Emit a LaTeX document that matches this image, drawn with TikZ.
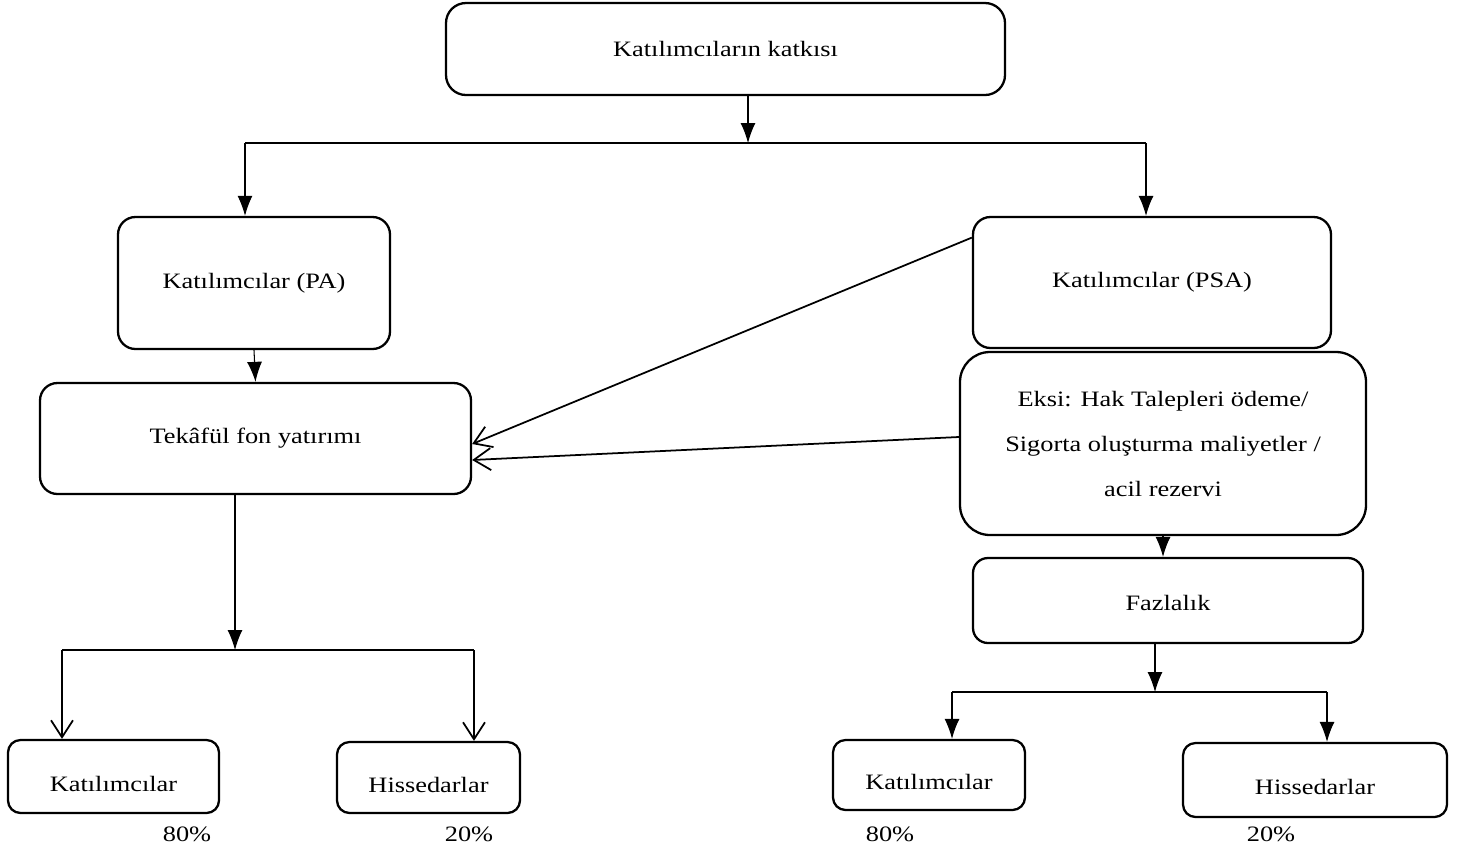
\documentclass[tikz,border=0pt]{standalone}
\usepackage{fontspec}
\setmainfont{Liberation Serif}[FakeStretch=1.2]
\usepackage{tikz}
\usetikzlibrary{arrows.meta, positioning, calc}

\begin{document}
\begin{tikzpicture}
    % Define styles
    \tikzstyle{box} = [rectangle, rounded corners=0.35cm, draw=black, line width=1.3pt, align=center, font=\fontsize{12.5}{25.6}\selectfont, inner sep=0pt]
    \tikzstyle{lowbox} = [box, rounded corners=0.25cm, text height=20pt, text depth=3pt]
    \tikzstyle{pct} = [font=\fontsize{12.5}{15}\selectfont, inner sep=0pt]
    \tikzstyle{arrow} = [-{Latex[length=4mm, width=3mm]}, line width=0.6pt]
    \tikzstyle{openarrow} = [-{Straight Barb[length=3.4mm, width=4.4mm]}, line width=1pt]
    \tikzstyle{bar} = [line width=1.3pt]

    \useasboundingbox (0,0) rectangle (29.5,-17.02);

    % Top
    \node[box, rounded corners=0.4cm, minimum width=11.18cm, minimum height=1.84cm] (katki) at (14.51,-0.98) {Katılımcıların katkısı};

    % Second row
    \node[box, minimum width=5.44cm, minimum height=2.64cm] (pa) at (5.08,-5.66) {Katılımcılar (PA)};
    \node[box, minimum width=7.16cm, minimum height=2.62cm] (psa) at (23.04,-5.65) {Katılımcılar (PSA)};

    % Third row
    \node[box, minimum width=8.62cm, minimum height=2.22cm] (fon) at (5.11,-8.77) {Tekâfül fon yatırımı};
    \node[box, rounded corners=0.6cm, minimum width=8.12cm, minimum height=3.66cm] (eksi) at (23.26,-8.87) {Eksi: Hak Talepleri ödeme/\\Sigorta oluşturma maliyetler /\\acil rezervi};
    \node[box, rounded corners=0.3cm, minimum width=7.8cm, minimum height=1.7cm, text height=14pt, text depth=3pt] (fazla) at (23.36,-12.01) {Fazlalık};

    % Bottom row
    \node[lowbox, minimum width=4.22cm, minimum height=1.46cm] (kat1) at (2.27,-15.53) {Katılımcılar};
    \node[lowbox, minimum width=3.66cm, minimum height=1.42cm] (his1) at (8.57,-15.55) {Hissedarlar};
    \node[lowbox, minimum width=3.84cm, minimum height=1.4cm] (kat2) at (18.58,-15.5) {Katılımcılar};
    \node[lowbox, minimum width=5.28cm, minimum height=1.48cm] (his2) at (26.3,-15.6) {Hissedarlar};

    % Shares
    \node[pct] (pk1) at (3.74,-16.68) {80\%};
    \node[pct] (ph1) at (9.38,-16.68) {20\%};
    \node[pct] (pk2) at (17.8,-16.68) {80\%};
    \node[pct] (ph2) at (25.42,-16.68) {20\%};

    % Branch points
    \coordinate (j1) at (14.96,-2.86);
    \coordinate (l1) at (4.9,-2.86);
    \coordinate (r1) at (22.92,-2.86);
    \coordinate (j2) at (4.7,-13.0);
    \coordinate (l2) at (1.24,-13.0);
    \coordinate (r2) at (9.48,-13.0);
    \coordinate (j3) at (23.1,-13.84);
    \coordinate (l3) at (19.04,-13.84);
    \coordinate (r3) at (26.54,-13.84);

    % Arrows
    \draw[arrow] (katki.south -| j1) -- (j1);
    \draw[bar] (l1) -- (r1);
    \draw[arrow] (l1) -- (l1 |- pa.north);
    \draw[arrow] (r1) -- (r1 |- psa.north);

    \draw[arrow] (pa.south) -- (fon.north);
    \draw[openarrow] (psa.166) -- ([yshift=-0.11cm]fon.east);
    \draw[openarrow] ([yshift=0.13cm]eksi.west) -- ([yshift=-0.43cm]fon.east);

    \draw[arrow] (fon.south -| j2) -- (j2);
    \draw[bar] (l2) -- (r2);
    \draw[openarrow] (l2) -- (l2 |- kat1.north);
    \draw[openarrow] (r2) -- (r2 |- his1.north);

    \draw[arrow] (eksi.south) -- (eksi.south |- fazla.north);
    \draw[arrow] (fazla.south -| j3) -- (j3);
    \draw[bar] (l3) -- (r3);
    \draw[arrow] (l3) -- (l3 |- kat2.north);
    \draw[arrow] (r3) -- (r3 |- his2.north);

\end{tikzpicture}
\end{document}
